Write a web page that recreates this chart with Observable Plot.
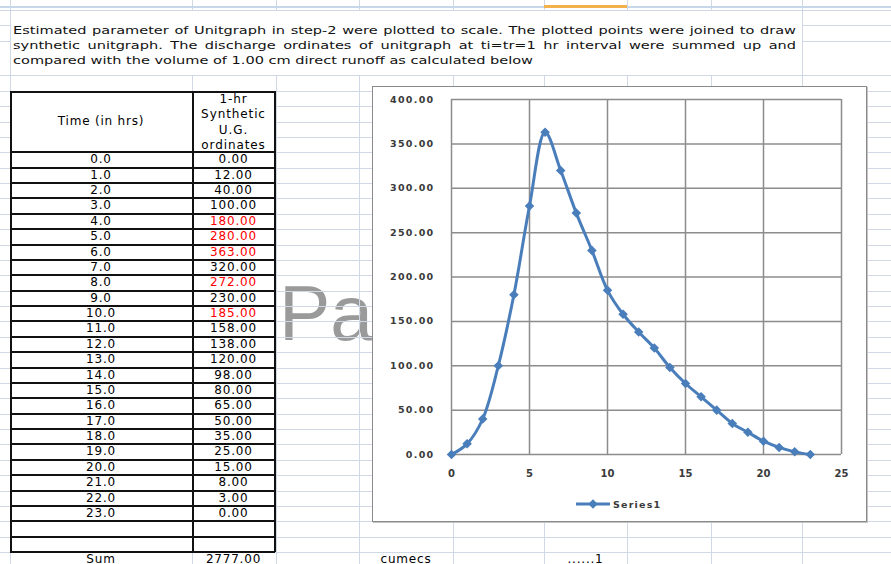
<!DOCTYPE html>
<html><head><meta charset="utf-8">
<script src="https://cdn.jsdelivr.net/npm/d3@7"></script>
<script src="https://cdn.jsdelivr.net/npm/@observablehq/plot@0.6"></script>
<style>
html,body{margin:0;padding:0;background:#fff;}
#sheet{position:relative;width:891px;height:564px;overflow:hidden;background:#fff;font-family:"DejaVu Sans",sans-serif;color:#000;}
.abs{position:absolute;}
.cell{position:absolute;text-align:center;white-space:nowrap;font-size:12px;letter-spacing:0.8px;line-height:15.375px;}
.desc{position:absolute;left:13px;font-size:11px;line-height:15px;white-space:nowrap;transform-origin:0 50%;color:#111;}
#chart g[aria-label="y-axis tick label"] text{letter-spacing:1.3px;}
</style></head><body><div id="sheet"></div>
<script>
// ---------- data ----------
const timeHours = [0,1,2,3,4,5,6,7,8,9,10,11,12,13,14,15,16,17,18,19,20,21,22,23];
const ordinates = [0,12,40,100,180,280,363,320,272,230,185,158,138,120,98,80,65,50,35,25,15,8,3,0];
const redRows = [4,5,6,8,10];
const xTicks = [0,5,10,15,20,25];
const yTicks = [0,50,100,150,200,250,300,350,400];
const seriesName = "Series1";
const descriptionLines = [
  "Estimated parameter of Unitgraph in step-2 were plotted to scale. The plotted points were joined to draw",
  "synthetic unitgraph.  The discharge ordinates of unitgraph at ti=tr=1 hr interval were summed up and",
  "compared with the volume of 1.00 cm direct runoff as calculated below"
];
const headerTime = "Time (in hrs)";
const headerOrd = ["1-hr","Synthetic","U.G.","ordinates"];
const sumLabel = "Sum", unitLabel = "cumecs", noteLabel = "......1";

// ---------- helpers ----------
const sheet = document.getElementById("sheet");
function box(x,y,w,h,bg,z){const d=document.createElement("div");d.className="abs";
  d.style.cssText+=`left:${x}px;top:${y}px;width:${w}px;height:${h}px;background:${bg};z-index:${z};`;sheet.appendChild(d);return d;}
function text(cls,x,y,w,str,z,extra){const d=document.createElement("div");d.className=cls;
  d.style.cssText+=`left:${x}px;top:${y}px;width:${w}px;z-index:${z};`+(extra||"");d.textContent=str;sheet.appendChild(d);return d;}

// ---------- watermark ----------
const wm=document.createElement("div");wm.className="abs";
wm.style.cssText+="left:279px;top:275px;font-family:'Liberation Sans',Arial,sans-serif;font-size:77px;line-height:77px;color:#9a9a9a;z-index:1;";
wm.textContent="Pa";sheet.appendChild(wm);

// ---------- spreadsheet grid ----------
const GC="#d0d7e5";
const rowStart=75.4, rowH=15.375;
box(0,10,891,1,GC,2);
[25,41].forEach(y=>{box(0,y,10,1,GC,2);box(802,y,89,1,GC,2);});
for(let y=rowStart;y<564;y+=rowH) box(0,Math.round(y),891,1,GC,2);
const cols=[10,192,276,359,453,544,627,711,802];
cols.forEach(x=>box(x,0,1,564,GC,2));
box(0,6,891,2,"#c9d7ea",2);
box(544,5,83,3,"#f3b04c",2);
box(11,11,791,64,"#fff",3);

// ---------- description ----------
const ctx=document.createElement("canvas").getContext("2d");
ctx.font="11px 'DejaVu Sans'";
const k=520/ctx.measureText(descriptionLines[2]).width;
descriptionLines.forEach((s,i)=>{
  text("desc",13,22.5+i*15,i<2?783/k:600,s,4,`transform:scaleX(${k});`+(i<2?"text-align:justify;text-align-last:justify;":""));
});

// ---------- table ----------
const TL=10,TR=275,TM=192,TT=91,HB=152.25;
box(TL,TT,TR-TL,552-TT,"#fff",3);
const BC="#111";
text("cell",TL,HB-2*rowH-7.7,TM-TL,headerTime,4);
headerOrd.forEach((s,i)=>text("cell",TM,TT+1+i*rowH,TR-TM,s,4,"letter-spacing:0.9px;"));
const nRows=timeHours.length+2;
for(let i=0;i<timeHours.length;i++){
  const y=HB+i*rowH;
  text("cell",TL,y,TM-TL,timeHours[i].toFixed(1),4);
  text("cell",TM,y,TR-TM,ordinates[i].toFixed(2),4,redRows.includes(i)?"color:#ff0000;":"");
}
for(let i=0;i<=nRows;i++) box(TL,Math.round(HB+i*rowH)-1,TR-TL,2,BC,5);
box(TL,TT,TR-TL,2,BC,5);
box(TL,TT,2,552-TT,BC,5);
box(TM,TT,1.5,552-TT,BC,5);
box(TR-1,TT,2,552-TT,BC,5);
// sum row
const sy=553.5;
const sumStyle="line-height:10px;";
text("cell",TL,sy,TM-TL,sumLabel,4,sumStyle);
text("cell",TM,sy,TR-TM,d3.sum(ordinates).toFixed(2),4,sumStyle);
text("cell",359,sy,94,unitLabel,4,sumStyle);
text("cell",544,sy,83,noteLabel,4,sumStyle);

// ---------- chart ----------
const cb=box(372,86,495,436,"#fff",6);
cb.style.boxSizing="border-box";cb.style.border="1px solid #8a8a8a";cb.style.boxShadow="1px 1px 0 #c4c4c4";
const holder=document.createElement("div");holder.id="chart";holder.className="abs";holder.style.cssText+="left:0;top:0;";
cb.appendChild(holder);
const data=timeHours.map((t,i)=>({t,q:ordinates[i]}));
const labelColor="#3a3a3a";
const thin="\u2009";
const plot=Plot.plot({
  width:493,height:395,
  marginLeft:78,marginRight:25,marginTop:12,marginBottom:28,
  style:{background:"transparent",fontFamily:"'DejaVu Sans',sans-serif",fontSize:"9.5px",fontWeight:"bold",color:labelColor,overflow:"visible"},
  x:{domain:[0,25],axis:null},
  y:{domain:[0,400],ticks:yTicks,tickSize:0,tickPadding:17,label:null,tickFormat:d3.format(".2f")},
  marks:[
    Plot.gridX(xTicks,{stroke:"#8c8c8c",strokeOpacity:1,strokeWidth:1.5}),
    Plot.gridY(yTicks,{stroke:"#8c8c8c",strokeOpacity:1,strokeWidth:1.5}),
    Plot.text(xTicks,{x:d=>d,y:0,dy:19,text:d=>thin+d+thin,fill:labelColor,fontWeight:"bold",fontSize:10}),
    Plot.line(data,{x:"t",y:"q",curve:"catmull-rom",stroke:"#4a7ebb",strokeWidth:3}),
    Plot.dot(data,{x:"t",y:"q",symbol:"diamond2",r:4.3,fill:"#4a7ebb",stroke:"none"})
  ]
});
holder.appendChild(plot);
// legend
const lg=document.createElement("div");lg.className="abs";
lg.style.cssText+="left:203px;top:410px;height:14px;display:flex;align-items:center;font-family:'DejaVu Sans',sans-serif;font-size:9.5px;font-weight:bold;color:#3a3a3a;letter-spacing:1.2px;";
lg.innerHTML=`<svg width="34" height="12" style="margin-right:3px"><line x1="0" y1="6" x2="34" y2="6" stroke="#4a7ebb" stroke-width="3"/><path d="M17,1.3L21.7,6L17,10.7L12.3,6Z" fill="#4a7ebb"/></svg><span>${seriesName}</span>`;
cb.appendChild(lg);
</script></body></html>
